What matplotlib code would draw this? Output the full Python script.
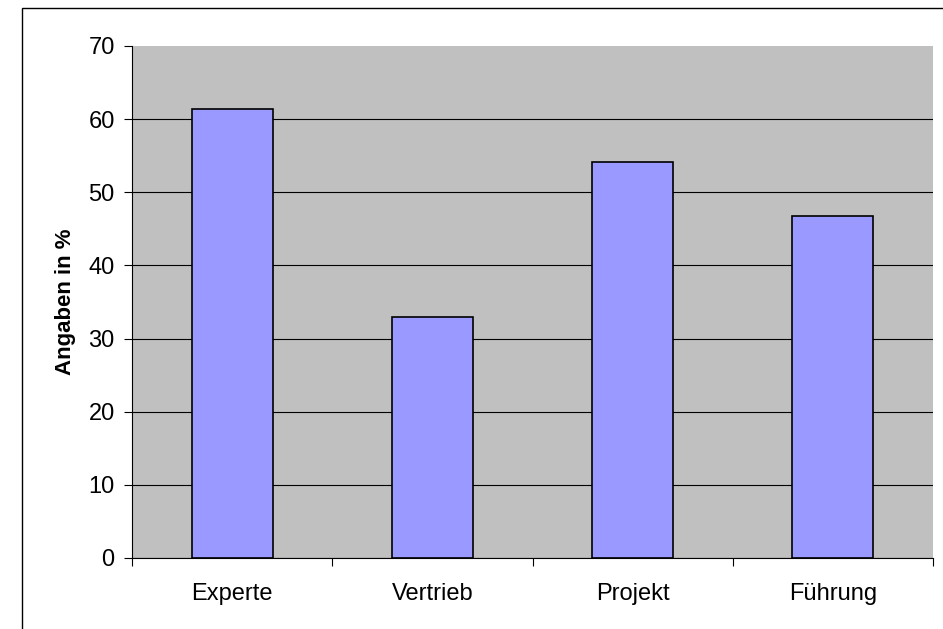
import numpy as np
import matplotlib.pyplot as plt
from matplotlib.patches import Rectangle

# ===========================
# DATA
# ===========================
categories = ['Experte', 'Vertrieb', 'Projekt', 'Führung']
values = [61.4, 33.0, 54.1, 46.8]
y_ticks = [0, 10, 20, 30, 40, 50, 60, 70]

BAR_COLOR = '#9999FF'
PLOT_BG = '#C0C0C0'
FS = 17

plt.rcParams['font.family'] = ['Liberation Sans', 'DejaVu Sans']

fig = plt.figure(figsize=(9.43, 6.29), dpi=100)
ax = fig.add_axes([132 / 943, 1 - 558 / 629, (933 - 132) / 943, (558 - 46) / 629])
ax.set_facecolor(PLOT_BG)

x = np.arange(len(categories))
ax.bar(x, values, width=0.405, color=BAR_COLOR, edgecolor='black', linewidth=1.2, zorder=3)

ax.set_xlim(-0.5, len(categories) - 0.5)
ax.set_ylim(0, 70)
ax.set_yticks(y_ticks)
ax.yaxis.grid(True, color='black', linewidth=0.8, zorder=1)
ax.get_ygridlines()[-1].set_visible(False)
ax.set_axisbelow(True)

ax.set_xticks(x)
ax.set_xticklabels(categories, fontsize=FS)
ax.set_xticks(np.arange(-0.5, len(categories)), minor=True)
ax.tick_params(axis='x', which='major', length=0, pad=18)
ax.tick_params(axis='x', which='minor', length=5.5, width=0.8, direction='out')
ax.tick_params(axis='y', length=5.5, width=0.8, direction='out', labelsize=FS, pad=7)

for s in ['top', 'right']:
    ax.spines[s].set_visible(False)
for s in ['left', 'bottom']:
    ax.spines[s].set_linewidth(0.8)
    ax.spines[s].set_zorder(4)

ax.set_ylabel('Angaben in %', fontsize=16, fontweight='bold', labelpad=9)

# outer chart border (cut off at the right/bottom edge)
fig.patches.append(Rectangle((22 / 943, -0.05), 1.1, 1 - 8 / 629 + 0.05,
                             transform=fig.transFigure, fill=False,
                             edgecolor='black', linewidth=1.0, clip_on=False))

fig.savefig('out.png', dpi=100)
